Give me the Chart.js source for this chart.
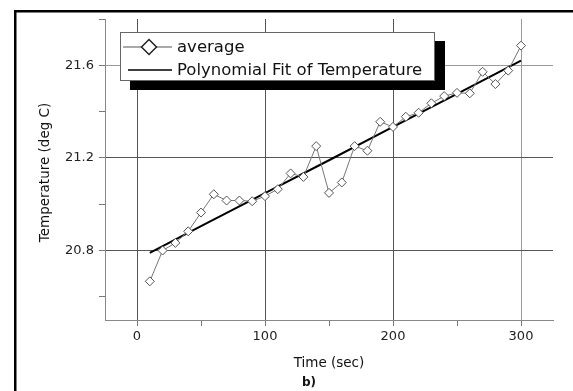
<!DOCTYPE html>
<html>
<head>
<meta charset="utf-8">
<script src="https://cdn.jsdelivr.net/npm/chart.js@4"></script>
<style>
  html, body { margin: 0; padding: 0; background: #fff; }
</style>
</head>
<body>
<canvas id="myChart" width="573" height="391"></canvas>
<script>
// time axis (sec) and the measured average
const times = [10, 20, 30, 40, 50, 60, 70, 80, 90, 100, 110, 120, 130, 140, 150,
  160, 170, 180, 190, 200, 210, 220, 230, 240, 250, 260, 270, 280, 290, 300];
const average = [20.667, 20.80, 20.833, 20.883, 20.964, 21.043, 21.016, 21.016, 21.013, 21.035,
  21.065, 21.133, 21.118, 21.251, 21.049, 21.094, 21.251, 21.231, 21.356, 21.334,
  21.378, 21.395, 21.436, 21.467, 21.481, 21.479, 21.572, 21.519, 21.577, 21.685];

// fitted curve
const fitTimes = [10, 50, 100, 150, 200, 250, 300];
const fitValues = [20.79, 20.905, 21.048, 21.19, 21.334, 21.477, 21.62];

// ticks
const xTicks = [0, 50, 100, 150, 200, 250, 300];
const xLabels = [0, 100, 200, 300];
const yTicks = [20.6, 20.8, 21.0, 21.2, 21.4, 21.6, 21.8];
const yLabels = [20.8, 21.2, 21.6];

const FONT = "'DejaVu Sans', sans-serif";
const ctx = document.getElementById("myChart").getContext("2d");

const isLabel = (list, v) => list.some((t) => Math.abs(t - v) < 1e-6);

// frame, axis titles and the boxed legend with its shadow
const decor = {
  id: "decor",
  beforeDraw(chart) {
    const c = chart.ctx;
    c.save();
    c.fillStyle = "#fff";
    c.fillRect(0, 0, chart.width, chart.height);
    c.fillStyle = "#000";
    c.fillRect(14, 10, chart.width - 14, 2.5);
    c.fillRect(14, 10, 2.5, chart.height - 10);
    c.restore();
  },
  afterDraw(chart) {
    const c = chart.ctx;
    const area = chart.chartArea;
    c.save();
    c.fillStyle = "#111";
    c.font = "13.5px " + FONT;
    c.textAlign = "center";
    c.textBaseline = "middle";
    c.fillText("Time (sec)", (area.left + area.right) / 2, 363);
    c.save();
    c.translate(45, (area.top + area.bottom) / 2 + 3);
    c.rotate(-Math.PI / 2);
    c.fillText("Temperature (deg C)", 0, 0);
    c.restore();
    c.font = "bold 12px " + FONT;
    c.textAlign = "left";
    c.fillText("b)", 302, 383);

    // legend
    c.fillStyle = "#000";
    c.fillRect(130, 41, 315, 49);
    c.fillStyle = "#fff";
    c.fillRect(120, 32, 315, 49);
    c.strokeStyle = "#666";
    c.lineWidth = 1;
    c.strokeRect(120.5, 32.5, 314, 48);

    const rows = [47, 70];
    chart.data.datasets.forEach((ds, i) => {
      const y = rows[i];
      c.beginPath();
      c.moveTo(i === 0 ? 123 : 128, y);
      c.lineTo(172, y);
      c.strokeStyle = i === 0 ? "#555" : "#000";
      c.lineWidth = i === 0 ? 1 : 1.5;
      c.stroke();
      if (i === 0) {
        const r = 7.5, cx = 149;
        c.beginPath();
        c.moveTo(cx, y - r);
        c.lineTo(cx + r, y);
        c.lineTo(cx, y + r);
        c.lineTo(cx - r, y);
        c.closePath();
        c.fillStyle = "#fff";
        c.fill();
        c.strokeStyle = "#222";
        c.lineWidth = 1.5;
        c.stroke();
      }
      c.fillStyle = "#111";
      c.font = "16.5px " + FONT;
      c.textAlign = "left";
      c.textBaseline = "middle";
      c.fillText(ds.label, 177, y + 1);
    });
    c.restore();
  },
};

const gridColor = (labels, light) => (context) => {
  const v = context.tick ? context.tick.value : null;
  if (v === null || !isLabel(labels, v)) return "rgba(0,0,0,0)";
  return isLabel([light], v) ? "#9a9a9a" : "#555";
};

const config = {
  type: "line",
  data: {
    datasets: [
      {
        label: "average",
        data: times.map((t, i) => ({ x: t, y: average[i] })),
        borderColor: "#777",
        borderWidth: 1,
        pointStyle: "rectRot",
        pointRadius: 4.5,
        pointBackgroundColor: "#fff",
        pointBorderColor: "#555",
        pointBorderWidth: 1,
        tension: 0,
      },
      {
        label: "Polynomial Fit of Temperature",
        data: fitTimes.map((t, i) => ({ x: t, y: fitValues[i] })),
        borderColor: "#000",
        borderWidth: 2,
        pointRadius: 0,
        tension: 0,
      },
    ],
  },
  options: {
    responsive: false,
    animation: false,
    devicePixelRatio: 1,
    layout: { padding: { top: 19, right: 20, left: 0, bottom: 0 } },
    plugins: { legend: { display: false }, tooltip: { enabled: false } },
    scales: {
      x: {
        type: "linear",
        position: "bottom",
        min: -25,
        max: 325,
        afterBuildTicks: (s) => {
          s.ticks = xTicks.map((v) => ({ value: v }));
        },
        afterFit: (s) => {
          s.height = 71;
        },
        ticks: {
          autoSkip: false,
          maxRotation: 0,
          padding: 3,
          color: "#222",
          font: { family: FONT, size: 13 },
          callback: (v) => (isLabel(xLabels, v) ? String(v) : ""),
        },
        grid: {
          color: gridColor(xLabels, 300),
          tickColor: "#777",
          tickLength: 6,
        },
        border: { color: "#888", width: 1 },
      },
      y: {
        type: "linear",
        min: 20.5,
        max: 21.8,
        afterBuildTicks: (s) => {
          s.ticks = yTicks.map((v) => ({ value: v }));
        },
        afterFit: (s) => {
          s.width = 105;
        },
        ticks: {
          autoSkip: false,
          padding: 5,
          color: "#222",
          font: { family: FONT, size: 13 },
          callback: (v) => (isLabel(yLabels, v) ? v.toFixed(1) : ""),
        },
        grid: {
          color: gridColor(yLabels, 21.6),
          tickColor: "#777",
          tickLength: 6,
        },
        border: { color: "#888", width: 1 },
      },
    },
  },
  plugins: [decor],
};

const myChart = new Chart(ctx, config);
</script>
</body>
</html>
